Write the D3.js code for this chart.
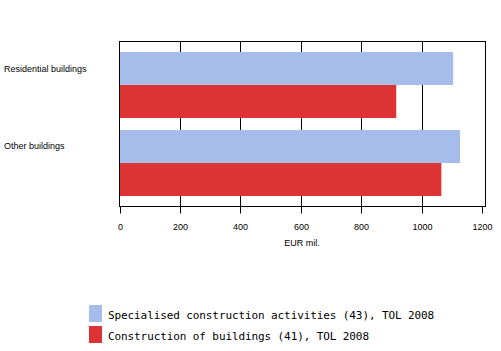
<!DOCTYPE html>
<html>
<head>
<meta charset="utf-8">
<script src="https://cdn.jsdelivr.net/npm/d3@7"></script>
<style>
  body { margin: 0; background: #fff; }
  svg { display: block; }
</style>
</head>
<body>
<svg id="chart" width="501" height="351"></svg>
<script>
// data
var categories = ["Residential buildings", "Other buildings"];
var seriesNames = ["Specialised construction activities (43), TOL 2008", "Construction of buildings (41), TOL 2008"];
var specialised = [1103, 1126];
var buildings = [915, 1064];
var xTicks = [0, 200, 400, 600, 800, 1000, 1200];
var colors = ["#a6bdeb", "#dc3434"];

var svg = d3.select("#chart");
var plotLeft = 119.5, plotRight = 485.5, plotTop = 41.5, plotBottom = 206.5;

var xScale = d3.scaleLinear()
  .domain([0, 1210])
  .range([plotLeft, plotRight]);

var yScale = d3.scaleBand()
  .domain(categories)
  .range([plotTop, plotBottom])
  .paddingInner(0.15)
  .paddingOuter(0.14);

var inner = d3.scaleBand()
  .domain([0, 1])
  .range([0, yScale.bandwidth()]);

function snap(v) { return Math.round(v) + 0.5; }

// gridlines
svg.append("g")
  .selectAll("line")
  .data(xTicks.filter((d) => d > 0 && d < 1200))
  .enter()
  .append("line")
  .attr("x1", (d) => snap(xScale(d)))
  .attr("x2", (d) => snap(xScale(d)))
  .attr("y1", plotTop)
  .attr("y2", plotBottom)
  .attr("stroke", "#000");

// bars
var series = [specialised, buildings];
series.forEach(function (vals, s) {
  svg.append("g")
    .selectAll("rect")
    .data(categories)
    .enter()
    .append("rect")
    .attr("x", plotLeft)
    .attr("y", (d) => Math.round(yScale(d) + inner(s)))
    .attr("width", (d, i) => xScale(vals[i]) - plotLeft)
    .attr("height", Math.round(inner.bandwidth()))
    .attr("fill", colors[s]);
});

// frame
svg.append("rect")
  .attr("x", plotLeft)
  .attr("y", plotTop)
  .attr("width", plotRight - plotLeft)
  .attr("height", plotBottom - plotTop)
  .attr("fill", "none")
  .attr("stroke", "#000");

// x axis
var xAxis = d3.axisBottom(xScale)
  .tickValues(xTicks)
  .tickFormat(d3.format("d"))
  .tickSize(7)
  .tickPadding(10)
  .tickSizeOuter(0);

var ax = svg.append("g")
  .attr("transform", "translate(0," + plotBottom + ")")
  .call(xAxis);
ax.select(".domain").remove();
ax.selectAll(".tick")
  .attr("transform", (d) => "translate(" + snap(xScale(d)) + ",0)");
ax.selectAll("line").attr("stroke", "#000");
ax.selectAll("text")
  .attr("fill", "#000")
  .style("font-family", "'Liberation Sans', Arial, sans-serif")
  .style("font-size", "9px");

svg.append("text")
  .attr("x", 302)
  .attr("y", 246)
  .attr("text-anchor", "middle")
  .style("font-family", "'Liberation Sans', Arial, sans-serif")
  .style("font-size", "9px")
  .text("EUR mil.");

// category labels
svg.append("g")
  .selectAll("text")
  .data(categories)
  .enter()
  .append("text")
  .attr("x", 4)
  .attr("y", (d) => yScale(d) + inner(0) + inner.bandwidth() / 2 + 3)
  .style("font-family", "'Liberation Sans', Arial, sans-serif")
  .style("font-size", "9px")
  .text((d) => d);

// legend
var legend = svg.append("g")
  .selectAll("g")
  .data(seriesNames)
  .enter()
  .append("g")
  .attr("transform", (d, i) => "translate(89," + (305 + i * 21) + ")");

legend.append("rect")
  .attr("width", 13)
  .attr("height", 17)
  .attr("fill", (d, i) => colors[i]);

legend.append("text")
  .attr("x", 19)
  .attr("y", 14)
  .style("font-family", "'DejaVu Sans Mono', monospace")
  .style("font-size", "11px")
  .style("letter-spacing", "-0.1px")
  .text((d) => d);
</script>
</body>
</html>
